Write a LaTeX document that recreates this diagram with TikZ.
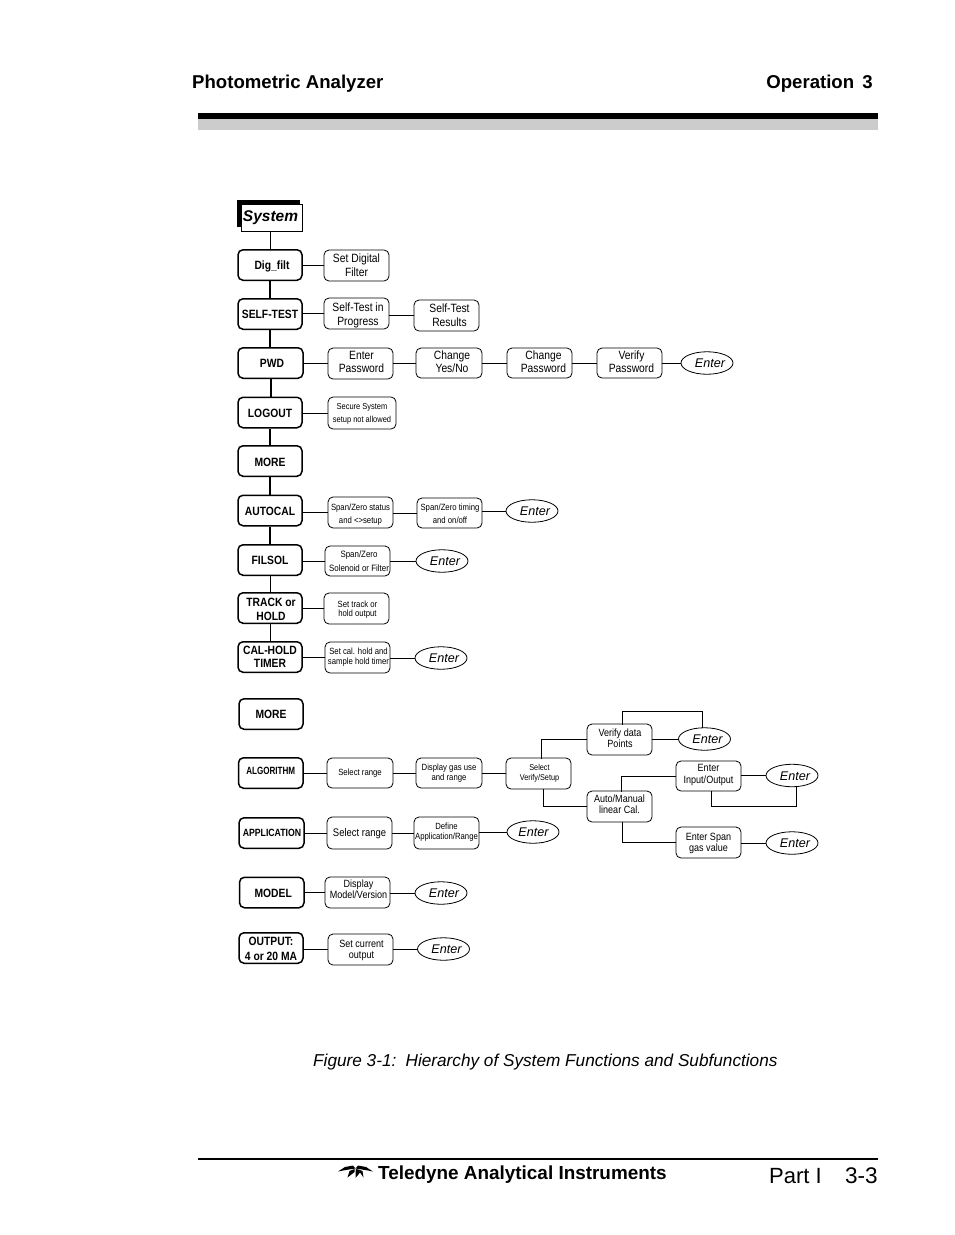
\documentclass[tikz,border=0pt]{standalone}
\usepackage{fontspec}
\setmainfont{Liberation Sans}
\newfontfamily\narf[FakeStretch=0.86]{Liberation Sans}
\newfontfamily\narA[FakeStretch=0.77]{Liberation Sans}
\newfontfamily\narB[FakeStretch=0.83]{Liberation Sans}
\newcommand{\fs}[2]{\fontsize{#1}{#2}\selectfont}
\usetikzlibrary{shapes.geometric}
\newsavebox{\txbx}
% \tx{dx}{dy}{text}: the text set off centre within its node, in picture units
\newcommand{\tx}[3]{\sbox{\txbx}{\begin{tabular}{@{}c@{}}#3\end{tabular}}\raisebox{\dimexpr 0pt-#2pt\relax}[\ht\txbx][\dp\txbx]{\hspace*{#1pt}\usebox{\txbx}\hspace*{-#1pt}}}
\tikzset{
  mainbox/.style={draw=black,line width=1.5pt,rounded corners=5pt,inner sep=0pt,align=center},
  subbox/.style={draw=black,line width=0.8pt,rounded corners=5pt,inner sep=0pt,align=center},
  enterbox/.style={draw=black,line width=0.8pt,ellipse,inner sep=0pt,align=center,font=\fs{12.6}{15}\itshape},
  lnk/.style={line width=1pt,line cap=rect},
  thk/.style={line width=2pt},
  mfont/.style={font=\narf\bfseries\fs{#1}{13.5}},
  sfont/.style n args={2}{font=\narf\fs{#1}{#2}},
}
\newcommand{\mainb}[6][12]{\node[mainbox,mfont=#1,minimum width={(#4-#3)*1pt},minimum height=30.5pt] (#2) at ({(#3+#4)/2},#5) {#6};}
\newcommand{\subb}[8]{\node[subbox,sfont={#6}{#7},minimum width={(#4-#2)*1pt},minimum height={(#5-#3)*1pt}] (#1) at ({(#2+#4)/2},{(#3+#5)/2}) {#8};}
\newcommand{\entr}[4]{\node[enterbox,minimum width=52pt,minimum height=22.5pt] (#1) at (#2,#3) {\tx{3}{1.5}{#4}};}
\newcommand{\hlk}[2]{\draw[lnk] (#1.east |- #2.west) -- (#2.west);}
\begin{document}
\begin{tikzpicture}[x=1pt,y=-1pt]
\useasboundingbox (0,0) rectangle (954,1235);
% header
\node[anchor=base west,inner sep=0pt,font=\bfseries\fs{18.6}{20}] (hl) at (192,88) {Photometric Analyzer};
\node[anchor=base east,inner sep=0pt,font=\bfseries\fs{18.6}{20}] (hr) at (873,88) {Operation\, 3};
\fill[black!20] (198,119) rectangle (878,130);
\fill[black] (198,113) rectangle (878,119);
% footer
\fill[black] (198,1158) rectangle (878,1160);
\node[anchor=base west,inner sep=0pt,font=\bfseries\fs{18.9}{20}] (ft) at (378,1179) {Teledyne Analytical Instruments};
\node[anchor=base west,inner sep=0pt,font=\fs{22}{26}] (pt) at (769,1183) {Part I};
\node[anchor=base east,inner sep=0pt,font=\fs{22.6}{26}] (pn) at (878,1183) {3-3};
\node[anchor=base west,inner sep=0pt,font=\itshape\fs{17.2}{20}] (cap) at (313,1066) {Figure 3-1:\, Hierarchy of System Functions and Subfunctions};
% logo
\fill[black] (338,1171.5) -- (345,1167) -- (353,1165.5) -- (355.5,1168.5) -- (349,1169.5) -- (343,1170.5) -- cycle;
\fill[black] (347.5,1177.5) -- (349.5,1171) -- (354.5,1169) -- (354.5,1172) -- cycle;
\fill[black] (355.5,1178) -- (355.5,1172) -- (356,1169) -- (358.5,1169.5) -- (360,1172.5) -- cycle;
\fill[black] (373,1171.5) -- (366,1167) -- (358,1165.5) -- (355.5,1168.5) -- (362,1169.5) -- (368,1170.5) -- cycle;
\fill[black] (363.5,1177.5) -- (362.5,1171) -- (358.5,1169.5) -- (360,1172.5) -- cycle;
% system
\fill[black] (237,200) rectangle (300,227);
\node[draw=black,fill=white,line width=1pt,inner sep=0pt,minimum width=61pt,minimum height=27pt,font=\bfseries\itshape\fs{15.5}{17}] (sys) at (271.5,217.5) {\tx{-1}{1}{System}};
% main column
\mainb{dig}{238}{302}{265}{\tx{2}{2}{Dig\_filt}}
\mainb{self}{238}{302}{314}{SELF-TEST}
\mainb{pwd}{238}{303}{363}{\tx{1.5}{2}{PWD}}
\mainb{logout}{238}{302}{412.5}{\tx{0}{2}{LOGOUT}}
\mainb{moreA}{238}{302}{461}{\tx{0}{3}{MORE}}
\mainb{autocal}{238}{302}{510.5}{\tx{0}{2}{AUTOCAL}}
\mainb{filsol}{238}{302}{560}{FILSOL}
\mainb{track}{238}{302}{608}{\fs{12}{14}\tx{1}{3}{TRACK or\\HOLD}}
\mainb{calhold}{238}{302}{657}{CAL-HOLD\\TIMER}
\mainb{moreB}{239}{303}{714}{MORE}
\mainb[11]{algo}{238.5}{303}{773}{\narA\bfseries\fs{10.5}{12}\tx{0}{-1}{ALGORITHM}}
\mainb[11]{appl}{239}{304}{833}{\narB\bfseries\fs{10.5}{12}\tx{0.5}{1}{APPLICATION}}
\mainb{model}{239.5}{304}{892.5}{\tx{1.5}{2.5}{MODEL}}
\mainb{output}{239}{303}{948}{\fs{12}{15}\tx{0}{1.5}{OUTPUT:\\4 or 20 MA}}
% spine
\draw[lnk] (sys.south -| dig.north) -- (dig.north);
\draw[thk] (dig.south) -- (self.north);
\draw[thk] (self.south) -- (pwd.north -| self.south);
\draw[thk] (pwd.south) -- (logout.north -| pwd.south);
\draw[thk] (logout.south) -- (moreA.north);
\draw[thk] (moreA.south) -- (autocal.north);
\draw[thk] (autocal.south) -- (filsol.north);
\draw[lnk] (filsol.south) -- (track.north);
\draw[lnk] (track.south) -- (calhold.north);
% row sub boxes
\subb{a1}{324}{250}{389}{281}{12}{14}{Set Digital\\Filter}
\subb{b1}{324}{298}{389}{329}{12}{14}{\tx{1.5}{2}{Self-Test in\\Progress}}
\subb{b2}{414}{300}{479}{331}{12}{14}{\tx{3}{1}{Self-Test\\Results}}
\subb{c1}{328}{348}{393}{379}{12}{13}{\tx{1}{0}{Enter\\Password}}
\subb{c2}{416}{348}{482}{378}{12}{13}{\tx{3}{0}{Change\\Yes/No}}
\subb{c3}{507}{348}{572}{378}{12}{13}{\tx{4}{0}{Change\\Password}}
\subb{c4}{597}{348}{662}{378}{12}{13}{\tx{2}{0}{Verify\\Password}}
\entr{c5}{707}{363}{Enter}
\subb{d1}{328}{397}{396}{429}{8.7}{13}{\tx{0}{0}{Secure System\\setup not allowed}}
\subb{e1}{328}{497}{393}{528}{9}{13}{\tx{0}{1.5}{Span/Zero status\\and <>setup}}
\subb{e2}{417}{498}{482}{528}{9}{13}{\tx{0.5}{1}{Span/Zero timing\\and on/off}}
\entr{e3}{532}{511}{Enter}
\subb{f1}{325}{546}{390}{576}{9.2}{14}{\tx{1.5}{1}{Span/Zero\\Solenoid or Filter}}
\entr{f2}{442}{561}{Enter}
\subb{g1}{324}{593}{389}{624}{9}{9.5}{\tx{1}{1.5}{Set track or\\hold output}}
\subb{h1}{325}{642}{390}{673}{9}{9.5}{\tx{1}{0}{Set cal. hold and\\sample hold timer}}
\entr{h2}{441}{658}{Enter}
\subb{i1}{327}{758}{393}{788}{9}{10}{Select range}
\subb{i2}{416}{758}{482}{788}{9}{9.5}{Display gas use\\and range}
\subb{i3}{506}{758}{571}{789}{8.5}{9.5}{\tx{1}{0}{Select\\Verify/Setup}}
\subb{v1}{587}{724}{652}{755}{10.5}{11}{\tx{0.5}{0}{Verify data\\Points}}
\entr{v2}{704.5}{739}{Enter}
\subb{am}{587}{791}{652}{822}{10.5}{11}{\tx{0}{-1}{Auto/Manual\\linear Cal.}}
\subb{io}{676}{761}{741}{791}{10.5}{11.5}{\tx{0}{-1}{Enter\\Input/Output}}
\entr{io2}{792}{775.5}{Enter}
\subb{sp}{676}{827}{741}{858}{10.5}{11}{\tx{0}{1}{Enter Span\\gas value}}
\entr{sp2}{792}{843}{Enter}
\subb{j1}{327}{817}{392}{849}{11}{12}{\tx{0}{1}{Select range}}
\subb{j2}{414}{817}{479}{849}{9}{10}{\tx{0}{-1}{Define\\Application/Range}}
\node[enterbox,minimum width=52pt,minimum height=22.5pt] (j3) at (533,832) {\tx{0.5}{1.5}{Enter}};
\subb{k1}{325}{877}{390}{908}{10.5}{11}{\tx{1}{-2}{Display\\Model/Version}}
\entr{k2}{441}{893}{Enter}
\subb{l1}{328}{934}{393}{965}{10.5}{11}{\tx{1}{1}{Set current\\output}}
\entr{l2}{443.5}{949}{Enter}
% horizontal links
\hlk{dig}{a1}
\hlk{self}{b1}\hlk{b1}{b2}
\hlk{pwd}{c1}\hlk{c1}{c2}\hlk{c2}{c3}\hlk{c3}{c4}\hlk{c4}{c5}
\hlk{logout}{d1}
\hlk{autocal}{e1}\hlk{e1}{e2}\hlk{e2}{e3}
\hlk{filsol}{f1}\hlk{f1}{f2}
\hlk{track}{g1}
\hlk{calhold}{h1}\hlk{h1}{h2}
\hlk{algo}{i1}\hlk{i1}{i2}\hlk{i2}{i3}
\hlk{appl}{j1}\hlk{j1}{j2}\hlk{j2}{j3}
\hlk{model}{k1}\hlk{k1}{k2}
\hlk{output}{l1}\hlk{l1}{l2}
\hlk{v1}{v2}\hlk{io}{io2}\hlk{sp}{sp2}
% tree links
\coordinate (q1) at (541,758);
\draw[lnk] (q1) |- (v1.west);
\coordinate (q2) at (543,789);
\draw[lnk] (q2) |- (am.west);
\coordinate (q3) at (622,724);
\coordinate (q4) at (702,711);
\draw[lnk] (q3) |- (q4) -- (q4 |- v2.north);
\coordinate (q5) at (621,791);
\draw[lnk] (q5) |- (io.west);
\coordinate (q6) at (622,822);
\draw[lnk] (q6) |- (sp.west);
\coordinate (q7) at (711,791);
\coordinate (q8) at (796,806);
\draw[lnk] (q7) |- (q8) -- (q8 |- io2.south);
\end{tikzpicture}
\end{document}
